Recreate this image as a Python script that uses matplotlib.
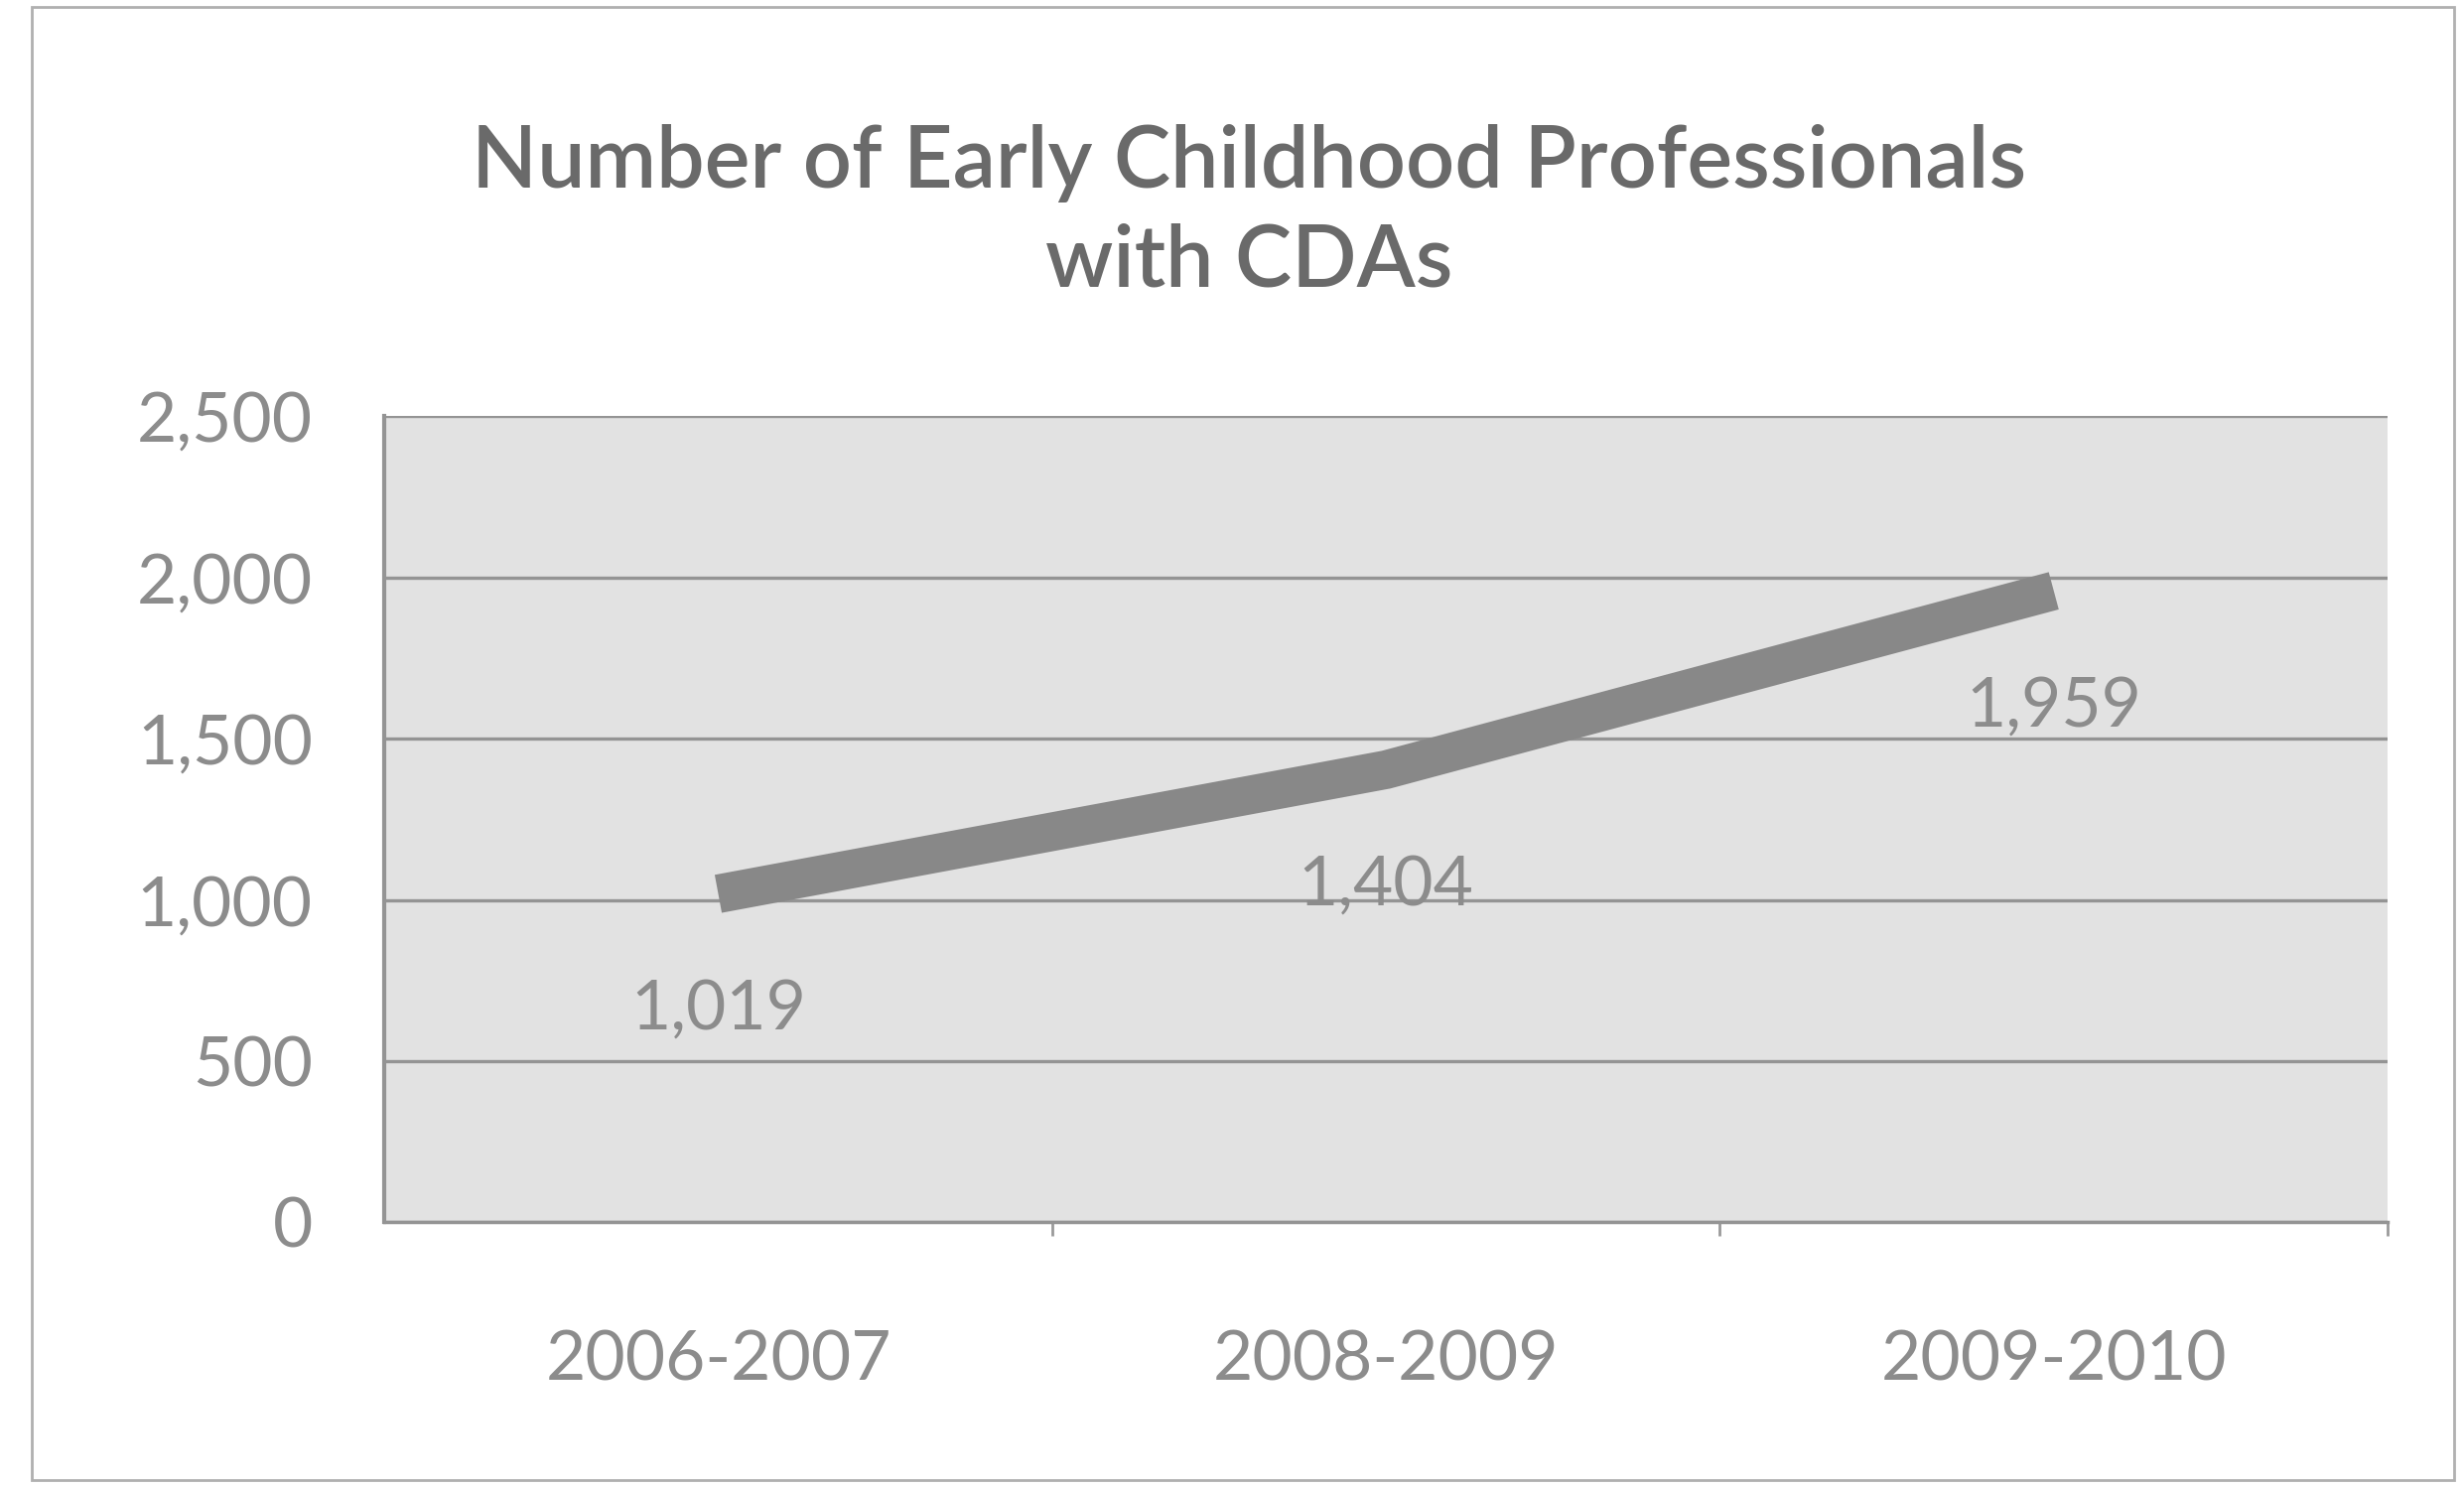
import matplotlib.pyplot as plt
from matplotlib.patches import Rectangle

# Datos de la serie
periodos = ['2006-2007', '2008-2009', '2009-2010']
profesionales = [1019, 1404, 1959]
etiquetas = ['1,019', '1,404', '1,959']
ticks_y = [0, 500, 1000, 1500, 2000, 2500]
ticks_y_txt = ['0', '500', '1,000', '1,500', '2,000', '2,500']

plt.rcParams['font.family'] = ['Lato', 'DejaVu Sans']

fig = plt.figure(figsize=(24.82, 14.98), dpi=100)
fig.patch.set_facecolor('white')
ax = fig.add_axes([0.156, 0.178, 0.813, 0.542])
ax.set_facecolor('#e2e2e2')

x = range(len(periodos))
ax.plot(x, profesionales, color='#888888', linewidth=28, solid_capstyle='butt', zorder=3)

for xi, v, t in zip(x, profesionales, etiquetas):
    ax.annotate(t, (xi, v), xytext=(0, -84), textcoords='offset points',
                ha='center', va='center', fontsize=50, color='#8c8c8c', zorder=4)

ax.set_xlim(-0.5, 2.5)
ax.set_ylim(0, 2500)
ax.set_yticks(ticks_y)
ax.set_yticklabels(ticks_y_txt)
ax.set_xticks(list(x))
ax.set_xticklabels(periodos)
ax.set_xticks([0.5, 1.5, 2.5], minor=True)

ax.grid(axis='y', color='#949494', linewidth=2.4, zorder=1)
ax.tick_params(axis='y', length=0, pad=52, labelsize=50, labelcolor='#8c8c8c')
ax.tick_params(axis='x', which='major', length=0, pad=78, labelsize=50, labelcolor='#8c8c8c')
ax.tick_params(axis='x', which='minor', length=10, width=2, color='#9a9a9a')

for lado in ['top', 'right']:
    ax.spines[lado].set_visible(False)
ax.spines['left'].set_color('#949494')
ax.spines['left'].set_linewidth(3)
ax.spines['bottom'].set_color('#949494')
ax.spines['bottom'].set_linewidth(2.5)

fig.text(0.507, 0.857, 'Number of Early Childhood Professionals\nwith CDAs',
         ha='center', va='center', fontsize=62, fontweight='semibold',
         color='#6a6a6a', linespacing=1.32)

# Marco del área del gráfico
fig.patches.append(Rectangle((0.013, 0.005), 0.983, 0.99, transform=fig.transFigure,
                             fill=False, edgecolor='#b0b0b0', linewidth=2))

fig.savefig('out.png', dpi=100)
